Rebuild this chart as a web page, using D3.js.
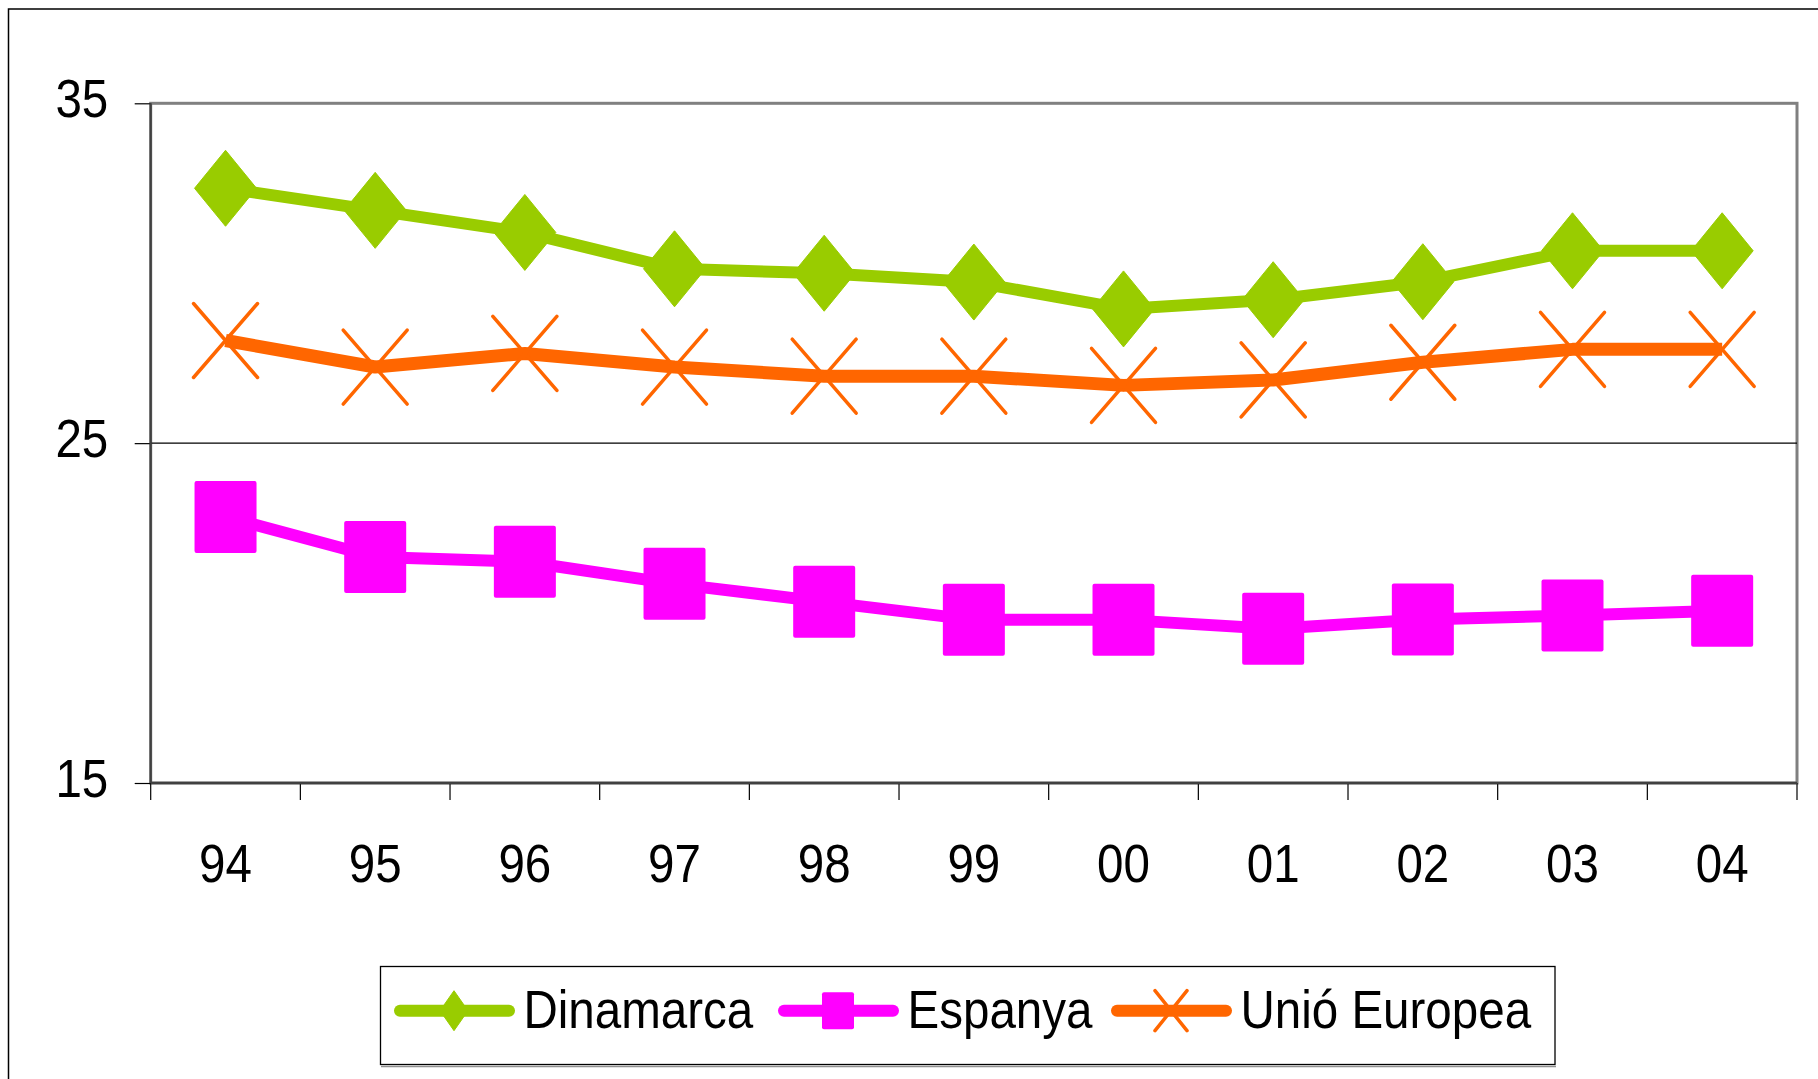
<!DOCTYPE html>
<html>
<head>
<meta charset="utf-8">
<script src="https://cdnjs.cloudflare.com/ajax/libs/d3/7.8.5/d3.min.js"></script>
<style>
  body { margin: 0; background: #fff; }
  svg { display: block; }
  text { font-family: "Liberation Sans", Arial, sans-serif; fill: #000; }
</style>
</head>
<body>
<div id="chart"></div>
<script>
const categories = ["94", "95", "96", "97", "98", "99", "00", "01", "02", "03", "04"];
const dinamarca = [32.5, 31.85, 31.2, 30.13, 30.0, 29.74, 28.95, 29.22, 29.75, 30.66, 30.66];
const espanya = [22.83, 21.65, 21.51, 20.86, 20.33, 19.8, 19.8, 19.54, 19.81, 19.93, 20.07];
const unioEuropea = [28.02, 27.24, 27.64, 27.24, 26.97, 26.97, 26.7, 26.86, 27.38, 27.76, 27.76];
const seriesNames = ["Dinamarca", "Espanya", "Unió Europea"];
const yTicks = [15, 25, 35];

const width = 1818;
const height = 1079;
const plot = { left: 150.7, right: 1797, top: 103.3, bottom: 783 };
const squeeze = 0.88; // the labels in the original are a bit condensed

const series = [
  { name: seriesNames[0], values: dinamarca, color: "#99cc00", marker: "diamond", lw: 12 },
  { name: seriesNames[1], values: espanya, color: "#ff00ff", marker: "square", lw: 12 },
  { name: seriesNames[2], values: unioEuropea, color: "#ff6600", marker: "cross", lw: 13 }
];

const svg = d3.select("#chart")
  .append("svg")
  .attr("width", width)
  .attr("height", height);

// outer chart border (runs off the bottom/right of the picture)
svg.append("rect")
  .attr("x", 8.5).attr("y", 9)
  .attr("width", width + 20).attr("height", height + 20)
  .attr("fill", "#fff")
  .attr("stroke", "#000")
  .attr("stroke-width", 1.5);

const xScale = d3.scaleBand()
  .domain(categories)
  .range([plot.left, plot.right]);

const yScale = d3.scaleLinear()
  .domain([15, 35])
  .range([plot.bottom, plot.top]);

// plot area frame
svg.append("rect")
  .attr("x", plot.left).attr("y", plot.top)
  .attr("width", plot.right - plot.left)
  .attr("height", plot.bottom - plot.top)
  .attr("fill", "#fff")
  .attr("stroke", "#808080")
  .attr("stroke-width", 3);

// gridline at 25
svg.append("line")
  .attr("x1", plot.left).attr("x2", plot.right)
  .attr("y1", yScale(25)).attr("y2", yScale(25))
  .attr("stroke", "#000")
  .attr("stroke-width", 1.2);

// y axis
const yAxis = d3.axisLeft(yScale).tickValues(yTicks).tickSize(16).tickFormat(d3.format("d"));
const gy = svg.append("g")
  .attr("transform", `translate(${plot.left}, 0)`)
  .call(yAxis);
gy.select(".domain").remove();
gy.selectAll(".tick line").attr("stroke", "#000").attr("stroke-width", 1.2);
gy.selectAll(".tick text")
  .attr("font-size", 54)
  .attr("x", -42.4 / squeeze)
  .attr("y", 13.4)
  .attr("dy", null)
  .attr("transform", `scale(${squeeze},1)`);

// x axis: labels centred in bands, ticks on band edges
const xAxis = d3.axisBottom(xScale).tickSize(0);
const gx = svg.append("g")
  .attr("transform", `translate(0, ${plot.bottom})`)
  .call(xAxis);
gx.select(".domain").remove();
gx.selectAll(".tick text")
  .attr("font-size", 54)
  .attr("y", 98.7)
  .attr("dy", null)
  .attr("transform", `scale(${squeeze},1)`);

const edges = categories.map(c => xScale(c)).concat([xScale.range()[1]]);
svg.append("g").selectAll("line")
  .data(edges)
  .enter()
  .append("line")
  .attr("x1", d => d).attr("x2", d => d)
  .attr("y1", plot.bottom).attr("y2", plot.bottom + 17)
  .attr("stroke", "#000")
  .attr("stroke-width", 1.2);

// axis lines
svg.append("line")
  .attr("x1", plot.left).attr("x2", plot.left)
  .attr("y1", plot.top).attr("y2", plot.bottom)
  .attr("stroke", "#404040").attr("stroke-width", 2.2);
svg.append("line")
  .attr("x1", plot.left).attr("x2", plot.right)
  .attr("y1", plot.bottom).attr("y2", plot.bottom)
  .attr("stroke", "#404040").attr("stroke-width", 2.5);

function drawMarker(g, type, color, w, h) {
  if (type === "diamond") {
    g.append("path")
      .attr("d", `M0,${-h} L${w},0 L0,${h} L${-w},0 Z`)
      .attr("fill", color)
      .attr("stroke", color)
      .attr("stroke-linejoin", "round")
      .attr("stroke-width", 1);
  } else if (type === "square") {
    g.append("rect")
      .attr("x", -w).attr("y", -h)
      .attr("width", 2 * w).attr("height", 2 * h)
      .attr("rx", 2)
      .attr("fill", color);
  } else {
    g.append("path")
      .attr("d", `M${-w},${-h} L${w},${h} M${w},${-h} L${-w},${h}`)
      .attr("fill", "none")
      .attr("stroke", color)
      .attr("stroke-width", 3.5)
      .attr("stroke-linecap", "round");
  }
}

const markerSize = {
  diamond: [31, 38],
  square: [31, 36],
  cross: [32, 37]
};

const line = d3.line()
  .x((d, i) => xScale(categories[i]) + xScale.bandwidth() / 2)
  .y(d => yScale(d));

series.forEach(s => {
  const g = svg.append("g");
  g.append("path")
    .datum(s.values)
    .attr("d", line)
    .attr("fill", "none")
    .attr("stroke", s.color)
    .attr("stroke-width", s.lw)
    .attr("stroke-linejoin", "round");

  g.selectAll("g.marker")
    .data(s.values)
    .enter()
    .append("g")
    .attr("class", "marker")
    .attr("transform", (d, i) =>
      `translate(${xScale(categories[i]) + xScale.bandwidth() / 2}, ${yScale(d)})`)
    .each(function () {
      const [w, h] = markerSize[s.marker];
      drawMarker(d3.select(this), s.marker, s.color, w, h);
    });
});

// legend
const legend = svg.append("g");
legend.append("rect")
  .attr("x", 380.5).attr("y", 966.5)
  .attr("width", 1174.5).attr("height", 98)
  .attr("fill", "#fff")
  .attr("stroke", "#000")
  .attr("stroke-width", 1.3);
legend.append("line")
  .attr("x1", 381).attr("x2", 1556)
  .attr("y1", 1066.5).attr("y2", 1066.5)
  .attr("stroke", "#909090").attr("stroke-width", 1.5);

const legendX = [394, 778, 1111];
const legendMarker = {
  diamond: [14, 20],
  square: [16, 18.5],
  cross: [16, 20]
};
const legendY = 1010.7;

series.forEach((s, i) => {
  const x0 = legendX[i];
  const item = legend.append("g").attr("transform", `translate(${x0}, ${legendY})`);
  item.append("line")
    .attr("x1", 6).attr("x2", 115)
    .attr("y1", 0).attr("y2", 0)
    .attr("stroke", s.color)
    .attr("stroke-width", 12)
    .attr("stroke-linecap", "round");
  const m = item.append("g").attr("transform", "translate(60, 0)");
  const [w, h] = legendMarker[s.marker];
  drawMarker(m, s.marker, s.color, w, h);
  item.append("text")
    .attr("x", 129.5 / squeeze)
    .attr("y", 17.6)
    .attr("font-size", 54)
    .attr("transform", `scale(${squeeze},1)`)
    .text(s.name);
});
</script>
</body>
</html>
